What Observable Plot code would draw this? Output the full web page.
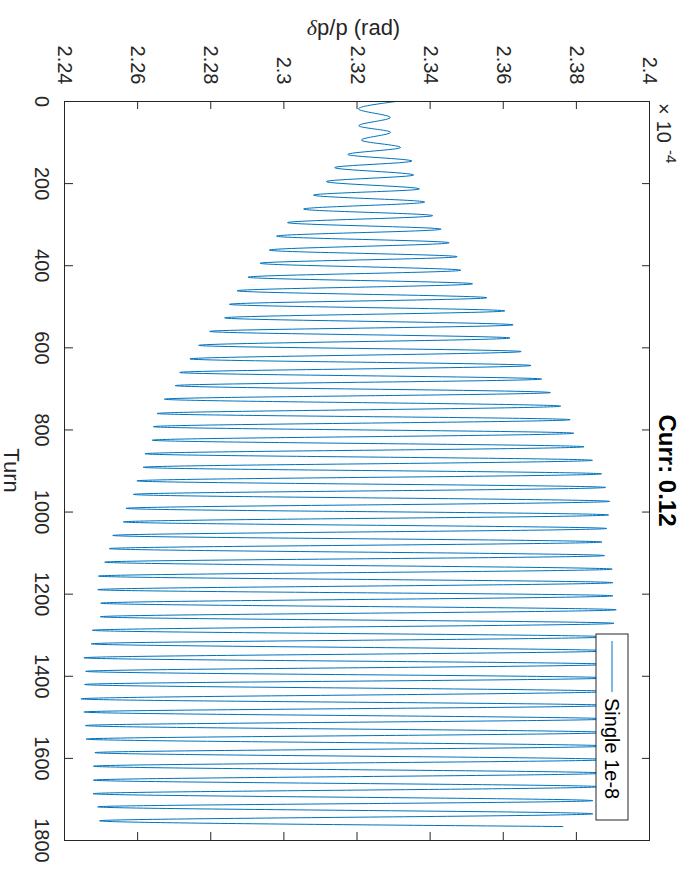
<!DOCTYPE html>
<html>
<head>
<meta charset="utf-8">
<script src="https://cdn.jsdelivr.net/npm/d3@7"></script>
<script src="https://cdn.jsdelivr.net/npm/@observablehq/plot@0.6"></script>
<style>
  html, body { margin: 0; padding: 0; background: #fff; overflow: hidden; }
  /* The figure is laid out landscape and turned a quarter turn clockwise. */
  #figure {
    position: absolute; left: 0; top: 0;
    width: 886px; height: 690px;
    transform-origin: 0 0;
    transform: translateX(690px) rotate(90deg);
  }
</style>
</head>
<body>
<div id="figure"></div>
<script>
// Axis ticks
const turnTicks = [0, 200, 400, 600, 800, 1000, 1200, 1400, 1600, 1800];
const dppTicks = [2.24, 2.26, 2.28, 2.3, 2.32, 2.34, 2.36, 2.38, 2.4];

// Turn number of each turning point of the oscillation (troughs and crests)
const turn = [
  0, 18, 39, 59, 75, 94, 112, 129, 145, 161, 179, 195, 213, 228, 245, 262, 278, 295,
  311, 328, 344, 362, 378, 394, 411, 428, 444, 461, 478, 494, 510, 527, 544, 560, 576, 594,
  609, 627, 643, 660, 676, 692, 709, 725, 742, 760, 775, 792, 808, 825, 841, 858, 874, 891,
  907, 924, 940, 957, 974, 991, 1007, 1024, 1040, 1057, 1073, 1089, 1106, 1122, 1139, 1156,
  1172, 1189, 1204, 1222, 1238, 1255, 1271, 1288, 1304, 1321, 1338, 1355, 1371, 1388, 1404, 1420,
  1437, 1455, 1471, 1487, 1504, 1520, 1537, 1553, 1570, 1586, 1603, 1619, 1636, 1653, 1669, 1686,
  1703, 1718, 1735, 1752, 1766
];

// δp/p at those turns (×1e-4)
const dpp = [
  2.3307, 2.3204, 2.3291, 2.3205, 2.3292, 2.3212, 2.3319, 2.3175, 2.3350, 2.3139, 2.3355, 2.3116,
  2.3371, 2.3081, 2.3385, 2.3054, 2.3407, 2.3010,
  2.3430, 2.2980, 2.3452, 2.2960, 2.3474, 2.2935, 2.3484, 2.2902, 2.3516, 2.2872, 2.3555, 2.2851,
  2.3604, 2.2838, 2.3627, 2.2797, 2.3618, 2.2767,
  2.3649, 2.2743, 2.3676, 2.2715, 2.3705, 2.2703, 2.3729, 2.2673, 2.3757, 2.2653, 2.3783, 2.2643,
  2.3793, 2.2640, 2.3821, 2.2620, 2.3844, 2.2615,
  2.3869, 2.2598, 2.3880, 2.2588, 2.3891, 2.2568, 2.3888, 2.2561, 2.3883, 2.2532, 2.3870, 2.2522,
  2.3877, 2.2510, 2.3898, 2.2493, 2.3900, 2.2491, 2.3900, 2.2499, 2.3909, 2.2498, 2.3903, 2.2476,
  2.3890, 2.2473, 2.3890, 2.2453, 2.3890, 2.2458, 2.3890, 2.2455, 2.3890, 2.2445, 2.3890, 2.2453,
  2.3890, 2.2457, 2.3890, 2.2459, 2.3890, 2.2483, 2.3890, 2.2479, 2.3880, 2.2479, 2.3865, 2.2478,
  2.3845, 2.2491, 2.3845, 2.2496, 2.3763
];

const seriesName = "Single 1e-8";
const titleText = "Curr: 0.12";
const xLabel = "Turn";

const W = 886, H = 690;
const margin = {top: 40, right: 46, bottom: 65, left: 101};
const innerW = W - margin.left - margin.right;
const innerH = H - margin.top - margin.bottom;
const tickLen = 8;
const ink = "#262626";
const lineBlue = "#0072BD";
const font = "'Liberation Sans', Arial, Helvetica, sans-serif";
const serif = "'Liberation Serif', 'DejaVu Serif', serif";

const rows = turn.map((t, i) => ({turn: t, dpp: dpp[i]}));

const chart = Plot.plot({
  width: W,
  height: H,
  marginTop: margin.top,
  marginRight: margin.right,
  marginBottom: margin.bottom,
  marginLeft: margin.left,
  style: {fontFamily: font, fontSize: "20px", color: ink, background: "white", overflow: "visible"},
  x: {domain: [0, 1800]},
  y: {domain: [2.24, 2.4]},
  marks: [
    Plot.line(rows, {x: "turn", y: "dpp", stroke: lineBlue, strokeWidth: 1, curve: "monotone-x"}),
    // inward ticks on all four sides
    Plot.tickX(turnTicks, {x: d => d, stroke: ink, insetTop: innerH - tickLen}),
    Plot.tickX(turnTicks, {x: d => d, stroke: ink, insetBottom: innerH - tickLen}),
    Plot.tickY(dppTicks, {y: d => d, stroke: ink, insetRight: innerW - tickLen}),
    Plot.tickY(dppTicks, {y: d => d, stroke: ink, insetLeft: innerW - tickLen}),
    Plot.axisX(turnTicks, {tickSize: 0, tickPadding: 15, tickFormat: d => String(d), label: null}),
    Plot.axisY(dppTicks, {tickSize: 0, tickPadding: 17, tickFormat: d => String(d), label: null}),
    Plot.frame({stroke: ink, strokeWidth: 1})
  ]
});

const svg = d3.select(chart);
const cx = margin.left + innerW / 2;
const cy = margin.top + innerH / 2;

// title
svg.append("text")
  .attr("x", cx).attr("y", 31)
  .attr("text-anchor", "middle")
  .attr("font-family", font).attr("font-size", 24).attr("font-weight", "bold")
  .attr("fill", "#000")
  .text(titleText);

// x label
svg.append("text")
  .attr("x", cx).attr("y", 686)
  .attr("text-anchor", "middle")
  .attr("font-family", font).attr("font-size", 22)
  .attr("fill", ink)
  .text(xLabel);

// y label, with an italic delta
const yl = svg.append("text")
  .attr("transform", `translate(35,${cy + 4}) rotate(-90)`)
  .attr("text-anchor", "middle")
  .attr("font-family", font).attr("font-size", 22)
  .attr("fill", ink);
yl.append("tspan").attr("font-family", serif).attr("font-style", "italic").text("δ");
yl.append("tspan").text("p/p (rad)");

// exponent of the y axis
const expo = svg.append("text")
  .attr("x", margin.left + 2).attr("y", 33)
  .attr("text-anchor", "start")
  .attr("font-family", font).attr("font-size", 20)
  .attr("fill", ink);
expo.append("tspan").text("×");
expo.append("tspan").attr("dx", 6).text("10");
expo.append("tspan").attr("dx", 7).attr("dy", -9).attr("font-size", 15).text("-4");

// legend
const lg = svg.append("g");
lg.append("rect")
  .attr("x", 634).attr("y", 62).attr("width", 186).attr("height", 32)
  .attr("fill", "white").attr("stroke", ink).attr("stroke-width", 1);
lg.append("line")
  .attr("x1", 641).attr("x2", 692).attr("y1", 78).attr("y2", 78)
  .attr("stroke", lineBlue).attr("stroke-width", 1);
lg.append("text")
  .attr("x", 698).attr("y", 85)
  .attr("text-anchor", "start")
  .attr("font-family", font).attr("font-size", 20)
  .attr("fill", "#000")
  .text(seriesName);

document.getElementById("figure").appendChild(chart);
</script>
</body>
</html>
